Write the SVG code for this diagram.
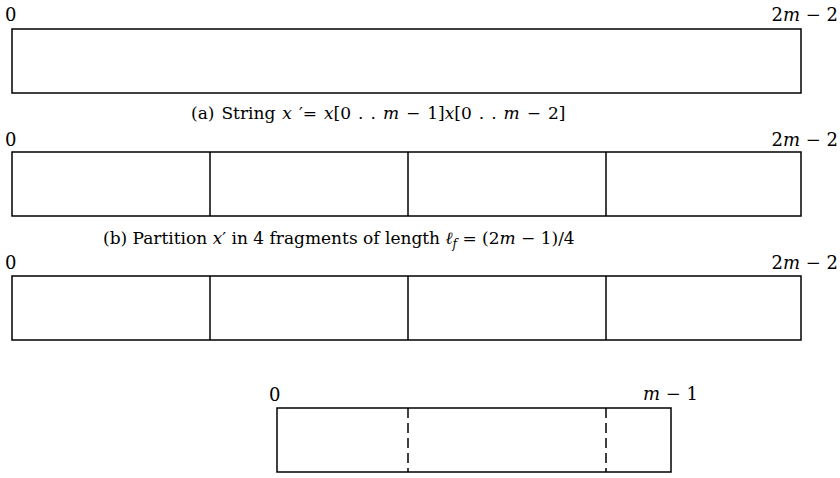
<svg xmlns="http://www.w3.org/2000/svg" width="840" height="478" viewBox="0 0 840 478">
<style>
text{font-family:"DejaVu Serif","Liberation Serif",serif;font-size:17px;fill:#000}
.lbl{font-size:18px}
.m{font-style:italic}
.box{fill:#fff;stroke:#000;stroke-width:1.5}
.div{stroke:#000;stroke-width:1.5}
.dash{stroke:#000;stroke-width:1.5;stroke-dasharray:10,5}
</style>
<rect width="840" height="478" fill="#fff"/>
<g id="strA">
<rect class="box" x="12" y="29" width="789" height="64"/>
<text class="lbl" x="5" y="21">0</text>
<text class="lbl" x="838" y="21" text-anchor="end">2<tspan class="m">m</tspan> − 2</text>
<text x="191" y="119" style="word-spacing:1.6px">(a) String <tspan class="m">x</tspan> ′= <tspan class="m">x</tspan>[0 . . <tspan class="m">m</tspan> − 1]<tspan class="m">x</tspan>[0 . . <tspan class="m">m</tspan> − 2]</text>
</g>
<g id="strB">
<rect class="box" x="12" y="152" width="789" height="64"/>
<line class="div" x1="210" y1="152" x2="210" y2="216"/>
<line class="div" x1="408" y1="152" x2="408" y2="216"/>
<line class="div" x1="606" y1="152" x2="606" y2="216"/>
<text class="lbl" x="5" y="146">0</text>
<text class="lbl" x="838" y="146" text-anchor="end">2<tspan class="m">m</tspan> − 2</text>
<text x="103" y="244">(b) Partition <tspan class="m">x</tspan>′ in 4 fragments of length <tspan class="m">ℓ</tspan><tspan class="m" font-size="12" dy="4">f</tspan><tspan dy="-4"> = (2</tspan><tspan class="m">m</tspan> − 1)/4</text>
</g>
<g id="strC">
<rect class="box" x="12" y="276" width="789" height="64"/>
<line class="div" x1="210" y1="276" x2="210" y2="340"/>
<line class="div" x1="408" y1="276" x2="408" y2="340"/>
<line class="div" x1="606" y1="276" x2="606" y2="340"/>
<text class="lbl" x="5" y="269">0</text>
<text class="lbl" x="838" y="269" text-anchor="end">2<tspan class="m">m</tspan> − 2</text>
</g>
<g id="pattern">
<rect class="box" x="277" y="408" width="394" height="64"/>
<line class="dash" x1="408" y1="408" x2="408" y2="472"/>
<line class="dash" x1="606" y1="408" x2="606" y2="472"/>
<text class="lbl" x="269" y="401">0</text>
<text class="lbl" x="698" y="400" text-anchor="end"><tspan class="m">m</tspan> − 1</text>
</g>
</svg>
